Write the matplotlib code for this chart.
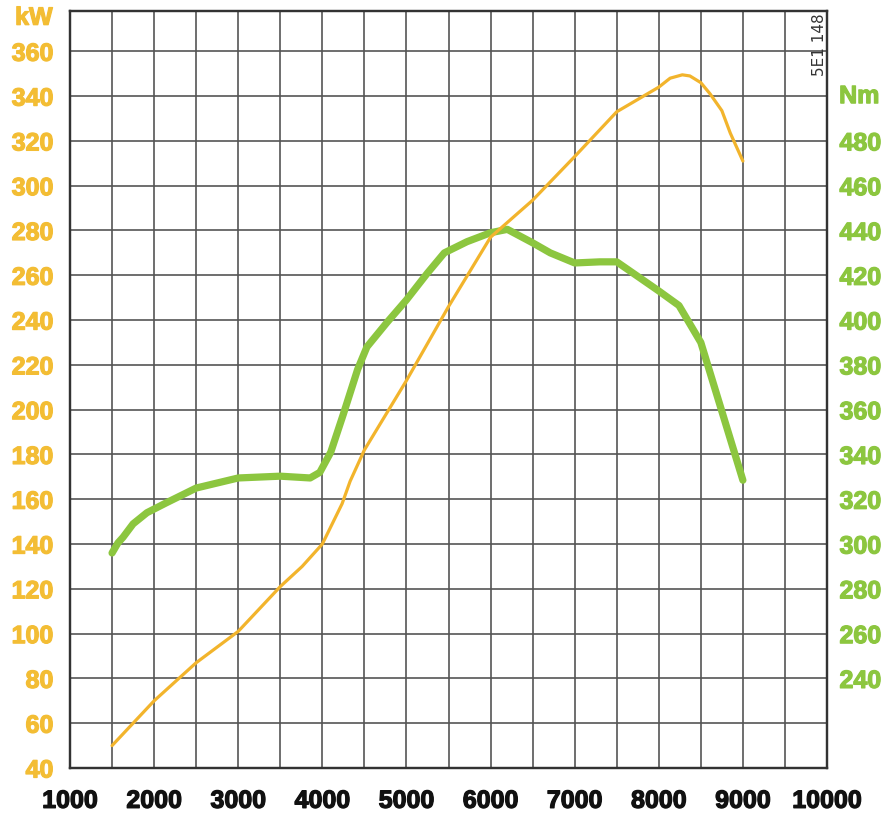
import numpy as np
import matplotlib

matplotlib.use("Agg")
import matplotlib.pyplot as plt
import matplotlib.patheffects as pe
from matplotlib.ticker import MultipleLocator

# power curve (kW)
rpm_power = [1500, 2000, 2500, 3000, 3500, 3760, 4000, 4235, 4330, 4500,
             5000, 5500, 6000, 6500, 7000, 7500, 8000, 8135, 8280, 8370,
             8500, 8610, 8750, 8850, 9000]
power_kw = [50, 70, 87, 101, 121, 130, 140, 158, 168, 182,
            213, 246, 277, 293.5, 313, 333, 344, 348, 349.5, 349,
            346, 341, 333.5, 323.5, 311]

# torque curve (Nm)
rpm_torque = [1500, 1570, 1630, 1750, 1915, 2150, 2500, 3000, 3500, 3855,
              3970, 4100, 4250, 4420, 4530, 4770, 5000, 5250, 5450, 5720,
              6000, 6200, 6500, 6710, 7000, 7300, 7500, 8000, 8240, 8500,
              9000]
torque_nm = [296, 300.5, 303, 309, 314, 318.5, 325, 329.5, 330.3, 329.5,
             332, 341, 358, 378, 388, 399, 409, 421, 430, 435,
             439, 440.5, 434.5, 430, 425.5, 426, 426, 413, 406.5, 390,
             328.5]

rpm_ticks = list(range(1000, 10001, 1000))
kw_ticks = list(range(40, 361, 20))
nm_ticks = list(range(240, 481, 20))

YELLOW_LINE = "#f2b42c"
YELLOW_TEXT = "#f3bd34"
GREEN = "#8cc63f"
GRID = "#555555"

plt.rcParams['font.family'] = ['Liberation Sans', 'DejaVu Sans']

fig = plt.figure(figsize=(8.87, 8.14), dpi=100)
ax = fig.add_axes([70 / 887, 1 - 768 / 814, 757 / 887, 757 / 814])
ax2 = ax.twinx()

# power axis on top so the thin line sits over the torque line, grid lives on ax2
ax.set_zorder(2)
ax.patch.set_visible(False)
ax2.set_zorder(1)

ax.set_xlim(1000, 10000)
ax.set_ylim(40, 378)
ax2.set_ylim(200, 538)

ax.set_xticks(rpm_ticks)
ax.set_xticklabels([str(r) for r in rpm_ticks])
ax.xaxis.set_minor_locator(MultipleLocator(500))
ax.set_yticks(kw_ticks)
ax.set_yticklabels([str(v) for v in kw_ticks])

ax2.set_yticks(nm_ticks)
ax2.set_yticklabels([str(v) for v in nm_ticks])
ax2.yaxis.set_minor_locator(MultipleLocator(20))

# gridlines drawn by the lower axes
ax2.xaxis.set_visible(True)
ax2.tick_params(axis='x', which='both', labelbottom=False, length=0)
ax2.grid(True, which='both', color=GRID, linewidth=1.2)

ax.tick_params(axis='x', which='both', length=0, pad=15, labelsize=18,
               labelcolor='#111111')
ax.tick_params(axis='y', which='both', length=0, pad=12, labelsize=18,
               labelcolor=YELLOW_TEXT)
ax2.tick_params(axis='y', which='both', length=0, pad=9, labelsize=18,
                labelcolor=GREEN)

# labels in the original are a heavy face, thicken the bold a little
def heavy(texts):
    for t in texts:
        t.set_fontweight('bold')
        t.set_path_effects([pe.withStroke(linewidth=0.9, foreground=t.get_color())])

heavy(ax.get_xticklabels())
heavy(ax.get_yticklabels())
heavy(ax2.get_yticklabels())

for a in (ax, ax2):
    for sp in a.spines.values():
        sp.set_color('#333333')
        sp.set_linewidth(1.6)

ax2.plot(rpm_torque, torque_nm, color=GREEN, linewidth=5.2,
         solid_capstyle='round', solid_joinstyle='round')
ax.plot(rpm_power, power_kw, color=YELLOW_LINE, linewidth=2.3,
        solid_capstyle='round', solid_joinstyle='round')

kw = ax.text(-0.023, 375, "kW", transform=ax.get_yaxis_transform(), ha='right',
             va='center', fontsize=18, color=YELLOW_TEXT)
nm = ax2.text(1.016, 500, "Nm", transform=ax2.get_yaxis_transform(), ha='left',
              va='center', fontsize=18, color=GREEN)
heavy([kw, nm])
ax.text(0.9895, 0.997, "5E1 148", transform=ax.transAxes, rotation=90,
        ha='center', va='top', fontsize=11, color='#333333',
        family=['Liberation Sans Narrow', 'DejaVu Sans'])

fig.savefig("out.png", dpi=100, facecolor='white')
